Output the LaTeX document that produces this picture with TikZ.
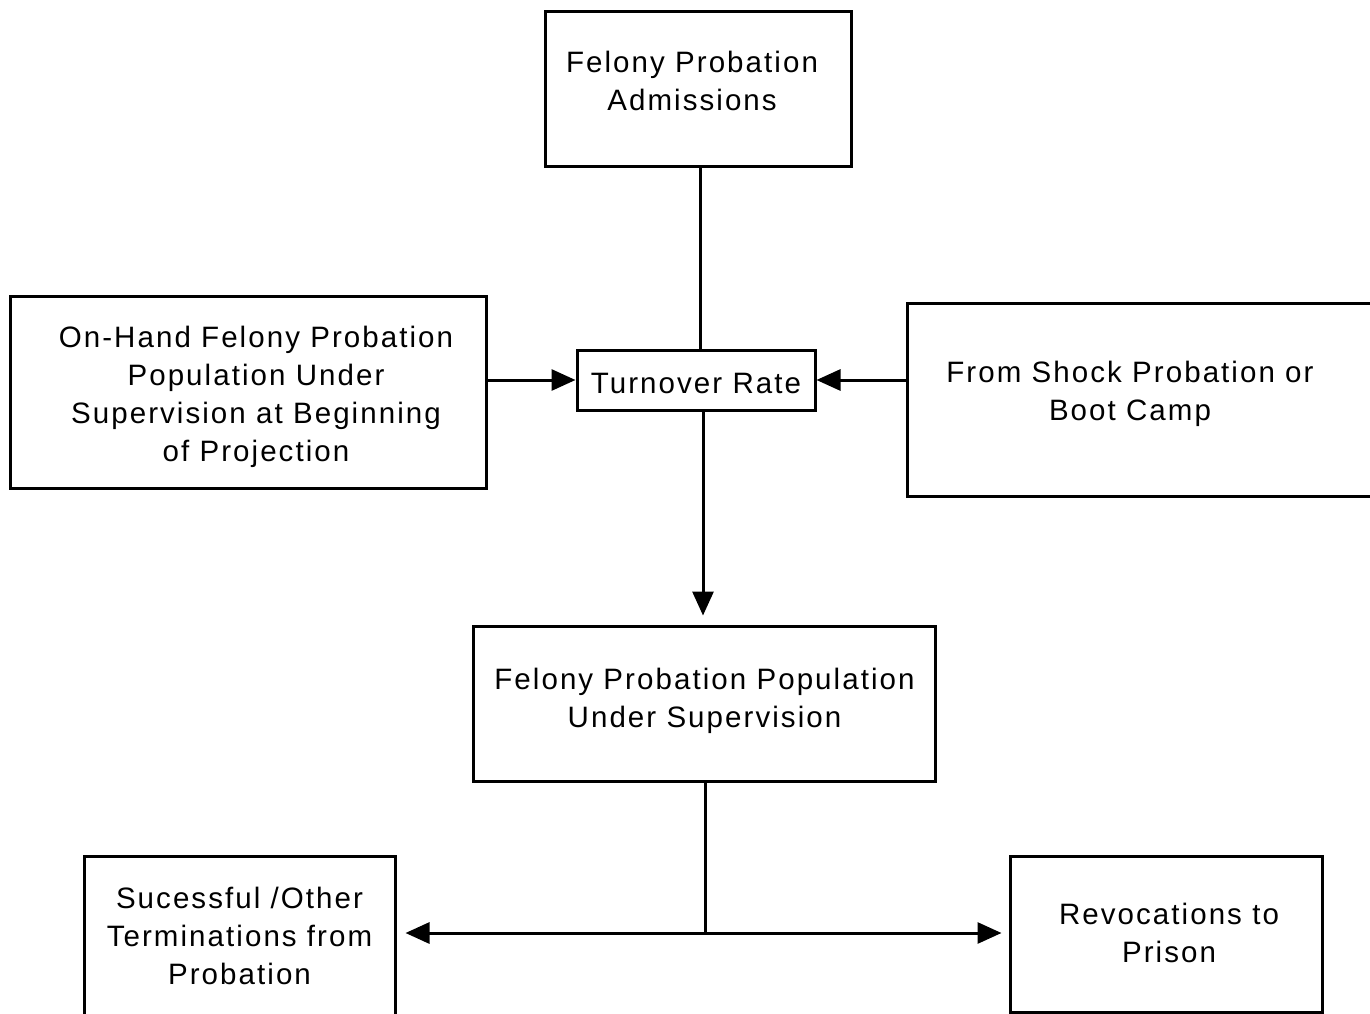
\documentclass[tikz,border=0pt]{standalone}
\usepackage{fontspec}
\setmainfont{Liberation Sans}[LetterSpace=7]
\usetikzlibrary{arrows.meta}
\begin{document}
\begin{tikzpicture}[x=1pt,y=-1pt,
  box/.style={draw, line width=3pt, inner sep=0pt},
  txt/.style={align=center, font=\fontsize{29.5}{38}\selectfont, inner sep=0pt, yshift=-2.5pt},
  conn/.style={line width=3pt},
  arr/.style={line width=3pt, -{Triangle[length=24pt,width=21pt]}}]
\fill[white] (0,0) rectangle (1370,1014);
\useasboundingbox (0,0) rectangle (1370,1014);
% boxes
\node[box, minimum width=306, minimum height=154] (adm) at (698,89) {};
\node[txt] (admt) at (692,78) {Felony Probation\\Admissions};
\node[box, minimum width=476, minimum height=192] (onh) at (248,392) {};
\node[txt] (onht) at (256,394.5) {On-Hand Felony Probation\\Population Under\\Supervision at Beginning\\of Projection};
\node[box, minimum width=238, minimum height=60] (turn) at (696,380) {};
\node[txt] (turnt) at (696,381) {Turnover Rate};
\node[box, minimum width=470, minimum height=193] (shk) at (1142,399.5) {};
\node[txt] (shkt) at (1130,391) {From Shock Probation or\\Boot Camp};
\node[box, minimum width=462, minimum height=155] (pop) at (704,703.5) {};
\node[txt] (popt) at (704.5,698.5) {Felony Probation Population\\Under Supervision};
\node[box, minimum width=311, minimum height=170] (suc) at (239.5,941) {};
\node[txt] (suct) at (239.5,933) {Sucessful /Other\\Terminations from\\Probation};
\node[box, minimum width=312, minimum height=156] (rev) at (1166,934) {};
\node[txt] (revt) at (1169,930) {Revocations to\\Prison};
% connectors
\draw[conn] (adm.south -| 700,0) -- (turn.north -| 700,0);
\draw[arr] (onh.east |- 0,380) -- (turn.west);
\draw[arr] (shk.west |- 0,380) -- (turn.east);
\draw[arr, shorten >=9pt] (turn.south -| 703,0) -- (pop.north -| 703,0);
\coordinate (j) at (705,933);
\draw[conn] (pop.south -| j) -- (j);
\draw[arr, shorten >=9pt] (j) -- (j -| suc.east);
\draw[arr, shorten >=7pt] (j) -- (j -| rev.west);
\end{tikzpicture}
\end{document}
